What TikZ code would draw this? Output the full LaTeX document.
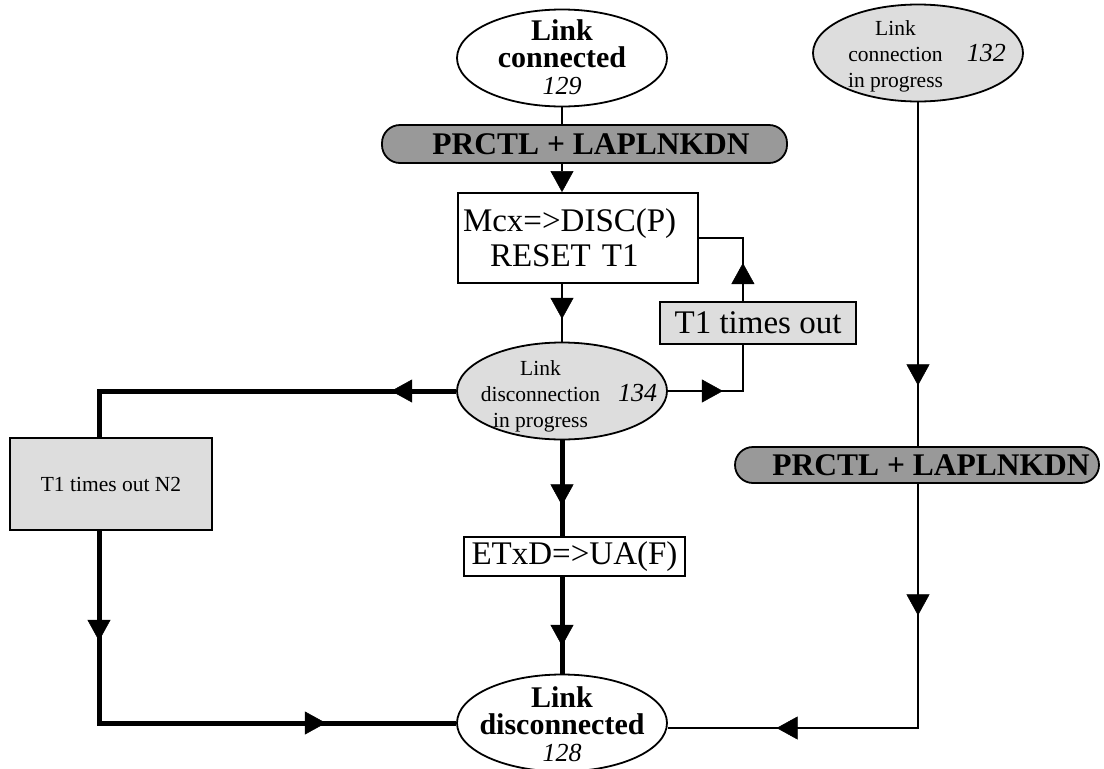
\documentclass[tikz,border=0pt]{standalone}
\usepackage{fontspec}
\setmainfont{Liberation Serif}
\usetikzlibrary{shapes.geometric, arrows.meta, decorations.markings}
\pgfdeclarelayer{bg}
\pgfsetlayers{bg,main}
\newcommand{\boldtxt}{\fontsize{30}{27}\selectfont\bfseries}
\newcommand{\smalltxt}{\fontsize{21.5}{26}\selectfont}
\newcommand{\midtxt}{\fontsize{33}{35}\selectfont}
\newcommand{\numtxt}{\fontsize{26}{27}\selectfont\mdseries\itshape}
\tikzset{
    every node/.style={draw, line width=1.8pt, inner sep=0pt},
    every label/.append style={draw=none, fill=none, inner sep=0pt},
    state/.style={ellipse, fill=white, minimum width=210pt, minimum height=97pt},
    busy/.style={state, fill=gray!27},
    signal/.style={rectangle, rounded corners=18pt, fill=gray!80, minimum height=38pt, font=\fontsize{31.5}{36}\selectfont\bfseries},
    action/.style={rectangle, fill=white, font=\midtxt},
    timer/.style={rectangle, fill=gray!27},
    flow/.style={line width=2pt},
    heavy/.style={line width=5pt},
    >={Triangle[length=21pt, width=23pt, line width=0.5pt]},
    arrowat/.style={postaction={decorate, decoration={markings, mark=at position #1 with {\arrow{>}}}}}
}

\begin{document}
\begin{tikzpicture}[x=1pt, y=-1pt]
	\useasboundingbox (0,0) rectangle (1104,769);
	\node (129) [state, label={[font=\boldtxt, align=center, yshift=1pt]center:{Link\\connected\\{\numtxt 129}}}] at (562, 58) {};
	\node (132) [busy, label={[font=\smalltxt, xshift=9pt, yshift=-3pt]center:{\begin{tabular}{@{}c@{}}Link\\connection\\in progress\end{tabular}\hspace{24pt}{\numtxt 132}}}] at (918, 53) {};
	\node (134) [busy, label={[font=\smalltxt, xshift=7pt, yshift=-5pt]center:{\begin{tabular}{@{}c@{}}Link\\disconnection\\in progress\end{tabular}\hspace{18pt}{\numtxt 134}}}] at (562, 391) {};
	\node (128) [state, label={[font=\boldtxt, align=center, yshift=-1pt]center:{Link\\disconnected\\{\numtxt 128}}}] at (562, 723) {};
	\node (1) [signal, minimum width=405pt] at (584.5, 144) {\hspace*{13pt}PRCTL + LAPLNKDN};
	\node (2) [action, minimum width=240pt, minimum height=90pt, text width=230pt, align=left] at (578, 238) {Mcx=>DISC(P)\\\hspace*{27pt}RESET T1};
	\node (3) [timer, minimum width=196pt, minimum height=42pt, font=\midtxt] at (758, 323) {T1 times out};
	\node (4) [timer, minimum width=202pt, minimum height=92pt, font=\smalltxt] at (111, 484) {T1 times out N2};
	\node (5) [action, minimum width=221pt, minimum height=39pt] at (574.5, 556.5) {ETxD=>UA(F)};
	\node (6) [signal, minimum width=364pt, minimum height=36pt] at (917, 465) {\hspace*{28pt}PRCTL + LAPLNKDN};

	\begin{pgfonlayer}{bg}
	\draw[flow, ->] (129.south) -- (129.south |- 2.north);
	\draw[flow, arrowat=35pt] (129.south |- 2.south) -- (134.north);
	\draw[flow, arrowat=55pt, arrowat=203pt] (134.east) -- ++(75,0) |- (2.east);
	\draw[heavy, arrowat=65pt] (134.west) -| ([xshift=-12pt]4.north);
	\draw[heavy, arrowat=110pt, arrowat=419pt] ([xshift=-12pt]4.south) |- (128.west);
	\draw[heavy, arrowat=65pt] (134.south) -- (134.south |- 5.north);
	\draw[heavy, arrowat=69pt] (134.south |- 5.south) -- (128.north);
	\draw[flow, arrowat=283pt, arrowat=513pt, arrowat=767pt] (132.south) |- ([yshift=-5pt]128.east);
	\end{pgfonlayer}
\end{tikzpicture}
\end{document}
